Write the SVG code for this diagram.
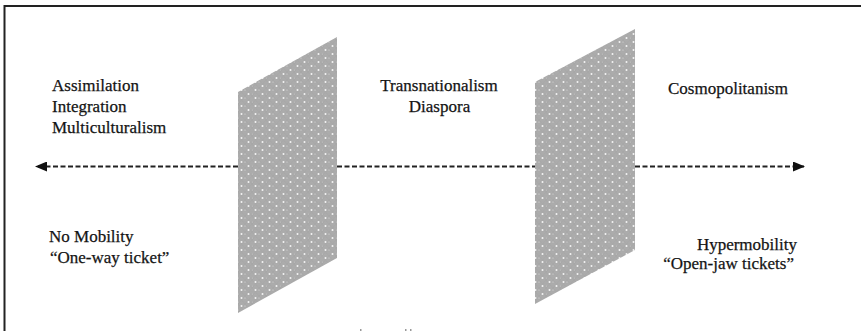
<svg xmlns="http://www.w3.org/2000/svg" width="861" height="331" viewBox="0 0 861 331">
  <defs>
    <!-- fine stippled texture for the two barrier panels -->
    <pattern id="stipple" width="14" height="8" patternUnits="userSpaceOnUse">
      <rect width="14" height="8" fill="#b6b6b6"/>
      <path d="M0 1H14M0 3H14M0 5H14M0 7H14" stroke="#9c9c9c" stroke-width="0.8"/>
      <path d="M0 0L7 8M7 0L14 8M7 0L0 8M14 0L7 8" stroke="#a4a4a4" stroke-width="0.6"/>
      <circle cx="3.5" cy="2" r="1" fill="#f4f4f4"/>
      <circle cx="10.5" cy="6" r="1" fill="#f4f4f4"/>
      <circle cx="0" cy="6" r="0.6" fill="#d8d8d8"/>
      <circle cx="7" cy="2" r="0.6" fill="#d8d8d8"/>
    </pattern>
    <marker id="head" viewBox="0 0 12 10" refX="11" refY="5" markerWidth="12" markerHeight="10" markerUnits="userSpaceOnUse" orient="auto-start-reverse">
      <path d="M0 0L12 5L0 10Z" fill="#111"/>
    </marker>
    <style>
      .lbl { font-family: "Liberation Serif", "Times New Roman", serif; font-size: 17px; fill: #141414; stroke: #141414; stroke-width: 0.25; }
      .frame { stroke: #222; stroke-width: 2; fill: none; }
      .axis { stroke: #222; stroke-width: 2; stroke-dasharray: 5 2.5; fill: none; }
      .panel { fill: url(#stipple); }
    </style>
  </defs>

  <rect width="861" height="331" fill="#fff"/>

  <!-- open frame: top and left edges -->
  <path class="frame" d="M4.5 331V6H861"/>

  <!-- dashed axis segments between the panels -->
  <g id="connectors">
    <line class="axis" x1="238" y1="166.5" x2="36" y2="166.5" marker-end="url(#head)"/>
    <line class="axis" x1="337" y1="166.5" x2="535" y2="166.5"/>
    <line class="axis" x1="635" y1="166.5" x2="804" y2="166.5" marker-end="url(#head)"/>
  </g>

  <!-- barrier panels -->
  <g id="panel-left">
    <polygon class="panel" points="238,92 337,37 337,258 238,313"/>
  </g>
  <g id="panel-right">
    <polygon class="panel" points="535,82 635,29 635,250 535,304"/>
  </g>

  <!-- left zone -->
  <g id="zone-left-top">
    <text class="lbl" x="52" y="91">Assimilation</text>
    <text class="lbl" x="52" y="112">Integration</text>
    <text class="lbl" x="52" y="133">Multiculturalism</text>
  </g>
  <g id="zone-left-bottom">
    <text class="lbl" x="49" y="242">No Mobility</text>
    <text class="lbl" x="50" y="263">“One-way ticket”</text>
  </g>

  <!-- middle zone -->
  <g id="zone-middle">
    <text class="lbl" x="439" y="91" text-anchor="middle">Transnationalism</text>
    <text class="lbl" x="439.5" y="112" text-anchor="middle">Diaspora</text>
  </g>

  <!-- right zone -->
  <g id="zone-right-top">
    <text class="lbl" x="668" y="94">Cosmopolitanism</text>
  </g>
  <g id="zone-right-bottom">
    <text class="lbl" x="797" y="250" text-anchor="end">Hypermobility</text>
    <text class="lbl" x="794" y="269" text-anchor="end">“Open-jaw tickets”</text>
  </g>

  <!-- clipped marks along the lower edge -->
  <g fill="#999">
    <rect x="360" y="329" width="1.5" height="2"/>
    <rect x="405" y="329" width="1.5" height="2"/>
    <rect x="410" y="329" width="1.5" height="2"/>
  </g>
</svg>
